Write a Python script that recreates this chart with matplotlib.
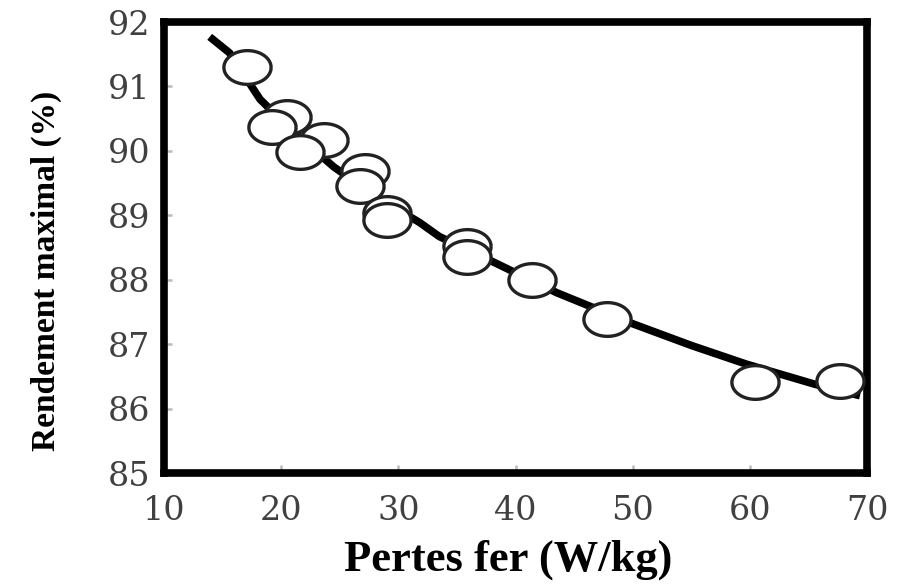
import numpy as np
import matplotlib
matplotlib.use('Agg')
import matplotlib.pyplot as plt
from matplotlib.path import Path

# fitted curve
curveX = [13.9, 15.6, 18.2, 21.0, 24.5, 28.0, 31.8, 33.5, 37.6, 43.5, 50.1, 55.0, 59.7, 65.5, 69.4]
curveY = [91.77, 91.52, 90.80, 90.30, 89.75, 89.30, 88.89, 88.67, 88.32, 87.80, 87.31, 86.98, 86.69, 86.38, 86.20]

# measured points (open circles)
ptsX = [17.1, 20.5, 19.2, 23.65, 21.6, 27.15, 26.7, 29.0, 29.0, 35.85, 35.85, 41.4, 47.8, 60.4, 67.7]
ptsY = [91.30, 90.53, 90.37, 90.17, 89.99, 89.68, 89.45, 89.04, 88.93, 88.52, 88.36, 88.0, 87.39, 86.41, 86.43]

xTicks = [10, 20, 30, 40, 50, 60, 70]
yTicks = [85, 86, 87, 88, 89, 90, 91, 92]

# ellipse shaped marker (the scan is stretched horizontally)
t = np.linspace(0, 2 * np.pi, 60)
ellMarker = Path(np.column_stack([1.4 * np.cos(t), np.sin(t)]))

fig = plt.figure(figsize=(9.04, 5.87), dpi=100)
ax = fig.add_axes([0.1814, 0.1942, 0.7777, 0.7683])

ax.plot(curveX, curveY, color='black', lw=5.5, solid_capstyle='butt', zorder=2)
ax.plot(ptsX, ptsY, linestyle='none', marker=ellMarker, markersize=34,
        markerfacecolor='white', markeredgecolor='#222222', markeredgewidth=2.4, zorder=3)

ax.set_xlim(10, 70)
ax.set_ylim(85, 92)
ax.set_xticks(xTicks)
ax.set_yticks(yTicks)
ax.tick_params(direction='in', length=6, width=1.8, color='#bbbbbb', labelcolor='#404040',
               labelsize=24)
ax.tick_params(axis='x', pad=16)
ax.tick_params(axis='y', pad=10)
for lbl in ax.get_xticklabels() + ax.get_yticklabels():
    lbl.set_family('DejaVu Serif')

for sp in ax.spines.values():
    sp.set_linewidth(5.5)
    sp.set_color('black')

ax.set_xlabel('Pertes fer (W/kg)', family='Liberation Serif', weight='bold', fontsize=32)
ax.set_ylabel('Rendement maximal (%)', family='Liberation Serif', weight='bold', fontsize=24)
ax.xaxis.set_label_coords(0.489, -0.148)
ax.yaxis.set_label_coords(-0.145, 0.448)

fig.savefig('out.png', dpi=100)
plt.close()
